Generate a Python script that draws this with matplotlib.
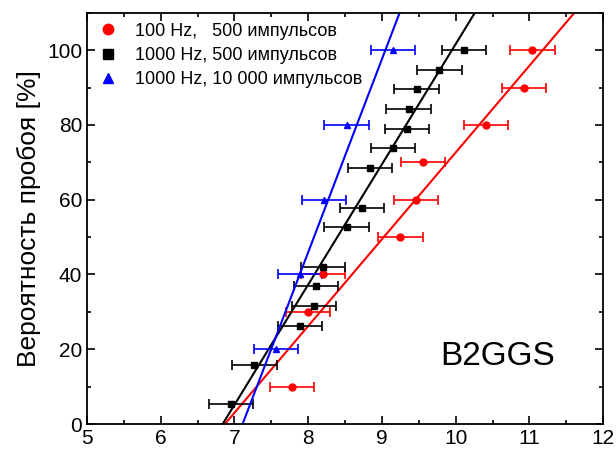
import numpy as np
import matplotlib
matplotlib.use('Agg')
import matplotlib.pyplot as plt
from matplotlib.ticker import MultipleLocator

plt.rcParams['font.family'] = ['Liberation Sans', 'DejaVu Sans']

# 100 Hz, 500 импульсов
u_red = [7.78, 8.00, 8.20, 9.25, 9.46, 9.56, 10.41, 10.93, 11.04]
p_red = [10, 30, 40, 50, 60, 70, 80, 90, 100]
# 1000 Hz, 500 импульсов
u_blk = [6.95, 7.27, 7.89, 8.08, 8.11, 8.20, 8.52, 8.73, 8.84, 9.15,
         9.34, 9.36, 9.47, 9.78, 10.11]
p_blk = [5.3, 15.8, 26.3, 31.6, 36.8, 42.1, 52.6, 57.9, 68.4, 73.7,
         78.9, 84.2, 89.5, 94.7, 100]
# 1000 Hz, 10 000 импульсов
u_blu = [7.56, 7.89, 8.21, 8.52, 9.15]
p_blu = [20, 40, 60, 80, 100]
err = 0.3

# linear fits: (U at P=0, U at P=110)
fit_red = [6.87, 11.61]
fit_blk = [6.84, 10.26]
fit_blu = [7.11, 9.24]
fit_p = [0, 110]

fig = plt.figure(figsize=(6.16, 4.55), dpi=100)
ax = fig.add_axes([0.1412, 0.068, 0.838, 0.904])

series = [
    (u_red, p_red, fit_red, 'red', 'o', '100 Hz,   500 импульсов'),
    (u_blk, p_blk, fit_blk, 'black', 's', '1000 Hz, 500 импульсов'),
    (u_blu, p_blu, fit_blu, 'blue', '^', '1000 Hz, 10 000 импульсов'),
]
handles = []
for u, p, fit, c, m, lab in series:
    ax.plot(fit, fit_p, color=c, lw=1.5)
    ax.errorbar(u, p, xerr=err, fmt=m, color=c, ms=5, elinewidth=1.2,
                capsize=3.5, capthick=1.2)
    h, = ax.plot([], [], m, color=c, ms=7.5, ls='none', label=lab)
    handles.append(h)

ax.legend(handles=handles, loc='upper left', frameon=False, fontsize=13,
          handlelength=1.2, handletextpad=0.9, labelspacing=0.4,
          borderpad=0.3, borderaxespad=0.25)

ax.text(11.35, 18, 'B2GGS', fontsize=24, ha='right', va='center')

ax.set_xlim(5, 12)
ax.set_ylim(0, 110)
ax.xaxis.set_major_locator(MultipleLocator(1))
ax.xaxis.set_minor_locator(MultipleLocator(0.5))
ax.yaxis.set_major_locator(MultipleLocator(20))
ax.yaxis.set_minor_locator(MultipleLocator(10))
ax.tick_params(which='both', direction='in', top=True, right=True,
               labelsize=15, width=1.2)
ax.tick_params(which='major', length=6)
ax.tick_params(which='minor', length=3)
for s in ax.spines.values():
    s.set_linewidth(1.3)
ax.set_ylabel('Вероятность пробоя [%]', fontsize=19)

fig.savefig('out.png', dpi=100)
